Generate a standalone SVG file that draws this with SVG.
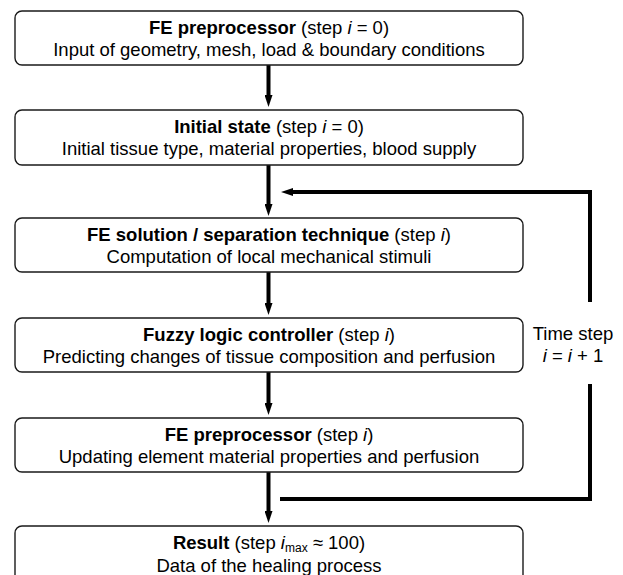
<svg xmlns="http://www.w3.org/2000/svg" width="623" height="575" viewBox="0 0 623 575">
<defs>
<style>
.box{fill:#fff;stroke:#1a1a1a;stroke-width:1.4}
.t{font-family:"Liberation Sans",Arial,sans-serif;font-size:18.5px;fill:#000;text-anchor:middle}
.b{font-weight:bold}
.i{font-style:italic}
.conn{stroke:#000;stroke-width:4;fill:none;stroke-linejoin:miter;stroke-linecap:butt}
</style>
<marker id="ah" viewBox="0 0 12 8" refX="1" refY="4" markerWidth="12" markerHeight="8" markerUnits="userSpaceOnUse" orient="auto">
<path d="M0,0 L12,4 L0,8 z" fill="#000"/>
</marker>
</defs>
<rect width="623" height="575" fill="#fff"/>
<g id="connectors">
<line class="conn" x1="268.5" y1="65" x2="268.5" y2="96" marker-end="url(#ah)"/>
<line class="conn" x1="268.5" y1="165" x2="268.5" y2="205" marker-end="url(#ah)"/>
<line class="conn" x1="268.5" y1="272" x2="268.5" y2="304" marker-end="url(#ah)"/>
<line class="conn" x1="268.5" y1="372" x2="268.5" y2="404" marker-end="url(#ah)"/>
<line class="conn" x1="268.5" y1="472" x2="268.5" y2="512" marker-end="url(#ah)"/>
<polyline class="conn" points="280,499 590,499 590,384"/>
<polyline class="conn" points="590,302 590,192 292,192" marker-end="url(#ah)"/>
</g>
<g id="n1">
<rect class="box" x="15" y="11" width="508" height="54" rx="7"/>
<text class="t" x="269" y="34"><tspan class="b">FE preprocessor</tspan> (step <tspan class="i">i</tspan> = 0)</text>
<text class="t" x="269" y="56">Input of geometry, mesh, load &amp; boundary conditions</text>
</g>
<g id="n2">
<rect class="box" x="15" y="110" width="508" height="55" rx="7"/>
<text class="t" x="269" y="133"><tspan class="b">Initial state</tspan> (step <tspan class="i">i</tspan> = 0)</text>
<text class="t" x="269" y="155">Initial tissue type, material properties, blood supply</text>
</g>
<g id="n3">
<rect class="box" x="15" y="218" width="508" height="54" rx="7"/>
<text class="t" x="269" y="241"><tspan class="b">FE solution / separation technique</tspan> (step <tspan class="i">i</tspan>)</text>
<text class="t" x="269" y="263">Computation of local mechanical stimuli</text>
</g>
<g id="n4">
<rect class="box" x="15" y="318" width="508" height="54" rx="7"/>
<text class="t" x="269" y="341"><tspan class="b">Fuzzy logic controller</tspan> (step <tspan class="i">i</tspan>)</text>
<text class="t" x="269" y="363">Predicting changes of tissue composition and perfusion</text>
</g>
<g id="n5">
<rect class="box" x="15" y="418" width="508" height="54" rx="7"/>
<text class="t" x="269" y="441"><tspan class="b">FE preprocessor</tspan> (step <tspan class="i">i</tspan>)</text>
<text class="t" x="269" y="463">Updating element material properties and perfusion</text>
</g>
<g id="n6">
<rect class="box" x="15" y="526" width="508" height="60" rx="7"/>
<text class="t" x="269" y="549"><tspan class="b">Result</tspan> (step <tspan class="i">i</tspan><tspan font-size="12" dy="3">max</tspan><tspan dy="-3"> ≈ 100)</tspan></text>
<text class="t" x="269" y="572">Data of the healing process</text>
</g>
<g id="label">
<text class="t" x="573" y="340">Time step</text>
<text class="t" x="573" y="362"><tspan class="i">i</tspan> = <tspan class="i">i</tspan> + 1</text>
</g>
</svg>
